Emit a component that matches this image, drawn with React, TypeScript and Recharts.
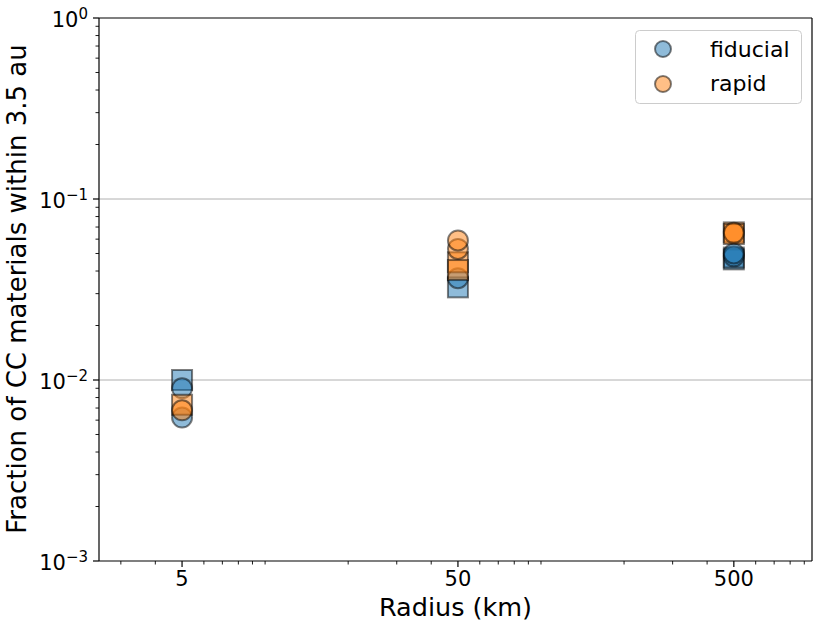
import React from 'react';
import { ScatterChart, Scatter, XAxis, YAxis, ReferenceLine, Legend } from 'recharts';

// fraction of CC material within 3.5 au (radius in km)
const fiducialSquareR = [5, 50, 500, 500];
const fiducialSquareY = [0.0100, 0.0325, 0.0464, 0.0475];
const fiducialCircleR = [5, 5, 50, 500, 500];
const fiducialCircleY = [0.0090, 0.0062, 0.0365, 0.0482, 0.0500];
const rapidSquareR = [5, 50, 50, 500, 500];
const rapidSquareY = [0.0073, 0.0447, 0.0405, 0.0654, 0.0640];
const rapidCircleR = [5, 50, 50, 500];
const rapidCircleY = [0.0068, 0.0530, 0.0590, 0.0650];

const xMajor = [5, 50, 500];
const xMinor = [3, 4, 6, 7, 8, 9, 10, 20, 30, 40, 60, 70, 80, 90, 100, 200, 300, 400, 600, 700, 800, 900];
const yMajor = [0.001, 0.01, 0.1, 1];
const yMajorExp = ['−3', '−2', '−1', '0'];
const yMinor = [
  0.002, 0.003, 0.004, 0.005, 0.006, 0.007, 0.008, 0.009,
  0.02, 0.03, 0.04, 0.05, 0.06, 0.07, 0.08, 0.09,
  0.2, 0.3, 0.4, 0.5, 0.6, 0.7, 0.8, 0.9,
];
const yGrid = [0.1, 0.01];

const X_DOMAIN: [number, number] = [2.5, 960];
const Y_DOMAIN: [number, number] = [0.001, 1];

const BLUE = '#1f77b4';
const ORANGE = '#ff7f0e';
const FONT = 'DejaVu Sans, sans-serif';

const toPoints = (rs: number[], ys: number[]) => rs.map((r, i) => ({ x: r, y: ys[i] }));

const circleShape = (color: string) => (props: any) => (
  <circle
    cx={props.cx}
    cy={props.cy}
    r={10}
    fill={color}
    fillOpacity={0.5}
    stroke="#000"
    strokeOpacity={0.5}
    strokeWidth={2}
  />
);

const squareShape = (color: string) => (props: any) => (
  <rect
    x={props.cx - 10}
    y={props.cy - 10}
    width={20}
    height={20}
    fill={color}
    fillOpacity={0.5}
    stroke="#000"
    strokeOpacity={0.5}
    strokeWidth={2}
  />
);

const XTick = (props: any) => {
  const { x, y, payload } = props;
  const major = xMajor.includes(payload.value);
  return (
    <g>
      <line x1={x} x2={x} y1={y} y2={y + (major ? 6 : 3.5)} stroke="#000" strokeWidth={major ? 1.2 : 0.9} />
      {major && (
        <text x={x} y={y + 25} textAnchor="middle" fontSize={21} fontFamily={FONT} fill="#000">
          {payload.value}
        </text>
      )}
    </g>
  );
};

const YTick = (props: any) => {
  const { x, y, payload } = props;
  const idx = yMajor.indexOf(payload.value);
  const major = idx >= 0;
  return (
    <g>
      <line x1={x - (major ? 6 : 3.5)} x2={x} y1={y} y2={y} stroke="#000" strokeWidth={major ? 1.2 : 0.9} />
      {major && (
        <text x={x - 11} y={y + 9} textAnchor="end" fontSize={21} fontFamily={FONT} fill="#000">
          <tspan>10</tspan>
          <tspan dy={-8} fontSize={15}>{yMajorExp[idx]}</tspan>
        </text>
      )}
    </g>
  );
};

const LegendBox = () => (
  <svg width={167} height={74} style={{ display: 'block' }}>
    <rect x={0.5} y={0.5} width={166} height={73} rx={4} fill="#fff" fillOpacity={0.8} stroke="#cccccc" />
    <circle cx={28} cy={19} r={8} fill={BLUE} fillOpacity={0.5} stroke="#000" strokeOpacity={0.5} strokeWidth={2} />
    <circle cx={28} cy={54} r={8} fill={ORANGE} fillOpacity={0.5} stroke="#000" strokeOpacity={0.5} strokeWidth={2} />
    <text x={75} y={27} fontSize={22} fontFamily={FONT} fill="#000">fiducial</text>
    <text x={75} y={61} fontSize={22} fontFamily={FONT} fill="#000">rapid</text>
  </svg>
);

export default function App() {
  return (
    <div style={{ position: 'absolute', left: 0, top: 0, background: '#fff' }}>
      <ScatterChart width={830} height={623} margin={{ top: 18, right: 18, bottom: 0, left: 0 }}>
        <XAxis
          dataKey="x"
          type="number"
          scale="log"
          domain={X_DOMAIN}
          allowDataOverflow
          ticks={[...xMinor, ...xMajor].sort((a, b) => a - b)}
          interval={0}
          tick={<XTick />}
          tickLine={false}
          tickSize={0}
          tickMargin={0}
          height={62}
          axisLine={{ stroke: '#000', strokeWidth: 1.2 }}
          label={{
            content: () => (
              <text x={455.5} y={616} textAnchor="middle" fontSize={25.5} fontFamily={FONT} fill="#000">
                Radius (km)
              </text>
            ),
          }}
        />
        <YAxis
          dataKey="y"
          type="number"
          scale="log"
          domain={Y_DOMAIN}
          allowDataOverflow
          ticks={[...yMinor, ...yMajor].sort((a, b) => a - b)}
          interval={0}
          tick={<YTick />}
          tickLine={false}
          tickSize={0}
          tickMargin={0}
          width={99}
          axisLine={{ stroke: '#000', strokeWidth: 1.2 }}
          label={{
            content: () => (
              <text
                x={26}
                y={289}
                textAnchor="middle"
                fontSize={26}
                fontFamily={FONT}
                fill="#000"
                transform="rotate(-90, 26, 289)"
              >
                Fraction of CC materials within 3.5 au
              </text>
            ),
          }}
        />
        {yGrid.map((v) => (
          <ReferenceLine key={v} y={v} stroke="#b0b0b0" strokeWidth={1} />
        ))}
        <ReferenceLine y={Y_DOMAIN[1]} stroke="#000" strokeWidth={1.2} />
        <ReferenceLine x={X_DOMAIN[1]} stroke="#000" strokeWidth={1.2} />
        <Scatter name="fiducial" data={toPoints(fiducialSquareR, fiducialSquareY)} shape={squareShape(BLUE)} isAnimationActive={false} />
        <Scatter name="fiducial" data={toPoints(fiducialCircleR, fiducialCircleY)} shape={circleShape(BLUE)} isAnimationActive={false} />
        <Scatter name="rapid" data={toPoints(rapidSquareR, rapidSquareY)} shape={squareShape(ORANGE)} isAnimationActive={false} />
        <Scatter name="rapid" data={toPoints(rapidCircleR, rapidCircleY)} shape={circleShape(ORANGE)} isAnimationActive={false} />
        <Legend
          layout="horizontal"
          verticalAlign="middle"
          align="center"
          content={() => <LegendBox />}
          wrapperStyle={{ left: 635, top: 30, width: 167, height: 74 }}
        />
      </ScatterChart>
    </div>
  );
}
